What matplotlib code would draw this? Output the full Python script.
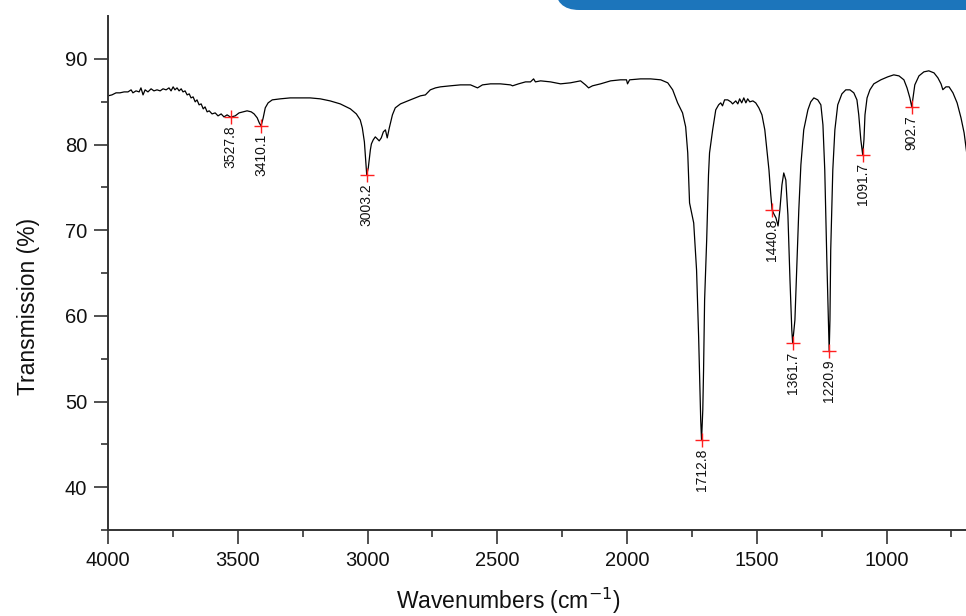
import matplotlib
matplotlib.use("Agg")
import matplotlib.pyplot as plt
from matplotlib.patches import FancyBboxPatch

plt.rcParams['font.family'] = ['Liberation Sans', 'DejaVu Sans']

# FTIR spectrum (wavenumber in cm-1, transmission in %)
wavenumber = [
    4000, 3985, 3969, 3954, 3938, 3923, 3911, 3904, 3892, 3880, 3873, 3865, 3857, 3846,
    3834, 3823, 3811, 3799, 3788, 3776, 3765, 3757, 3749, 3742, 3734, 3726, 3718, 3711,
    3703, 3695, 3687, 3680, 3672, 3664, 3657, 3649, 3641, 3633, 3626, 3618, 3610, 3599,
    3587, 3576, 3564, 3553, 3541, 3528, 3510, 3495, 3479, 3464, 3448, 3437, 3425, 3417,
    3410, 3402, 3394, 3383, 3367, 3336, 3298, 3259, 3221, 3182, 3144, 3105, 3066, 3043,
    3028, 3020, 3012, 3006, 3003, 2997, 2989, 2985, 2978, 2970, 2962, 2955, 2947, 2939,
    2931, 2924, 2916, 2904, 2893, 2873, 2854, 2835, 2816, 2796, 2777, 2758, 2738, 2719,
    2681, 2642, 2603, 2576, 2557, 2526, 2488, 2449, 2441, 2418, 2391, 2372, 2360, 2353,
    2333, 2295, 2256, 2218, 2179, 2160, 2148, 2133, 2102, 2063, 2025, 2002, 1998, 1990,
    1948, 1909, 1870, 1843, 1824, 1805, 1786, 1774, 1766, 1759, 1751, 1743, 1732, 1724,
    1716, 1712.8, 1708, 1705, 1701, 1693, 1689, 1686, 1682, 1670, 1658, 1647, 1639, 1632,
    1624, 1612, 1600, 1593, 1581, 1573, 1566, 1558, 1550, 1542, 1535, 1527, 1515, 1504,
    1492, 1480, 1469, 1461, 1453, 1446, 1440.8, 1434, 1426, 1418, 1411, 1403, 1396, 1388,
    1380, 1372, 1365, 1361.7, 1353, 1346, 1338, 1330, 1319, 1303, 1292, 1280, 1265, 1253,
    1245, 1238, 1230, 1220.9, 1218, 1215, 1207, 1199, 1188, 1172, 1157, 1141, 1126, 1114,
    1107, 1099, 1091.7, 1087, 1083, 1075, 1064, 1049, 1022, 995, 972, 952, 933, 921,
    910, 902.7, 898, 891, 875, 856, 837, 817, 802, 790, 783, 771, 759, 744,
    728, 713, 701, 690,
]
transmission = [
    85.68, 85.79, 86.03, 86.03, 86.14, 86.14, 86.38, 86.03, 86.26, 86.14, 86.61, 85.79, 86.38, 86.14,
    86.50, 86.26, 86.38, 86.26, 86.50, 86.38, 86.61, 86.26, 86.73, 86.38, 86.61, 86.26, 86.50, 86.14,
    86.26, 85.79, 85.91, 85.44, 85.56, 84.98, 85.21, 84.63, 84.74, 84.16, 84.39, 83.81, 83.93, 83.57,
    83.69, 83.34, 83.57, 83.22, 83.46, 83.20, 83.34, 83.69, 83.81, 83.93, 83.81, 83.57, 83.11, 82.52,
    82.17, 83.11, 84.28, 84.86, 85.21, 85.33, 85.44, 85.44, 85.44, 85.33, 85.09, 84.74, 84.16, 83.57,
    82.87, 81.94, 80.30, 77.62, 76.45, 77.27, 79.37, 80.07, 80.54, 80.89, 80.65, 80.42, 80.77, 81.47,
    81.71, 80.77, 81.94, 83.46, 84.28, 84.74, 84.98, 85.21, 85.44, 85.68, 85.79, 86.38, 86.61, 86.73,
    86.85, 86.96, 86.96, 86.61, 86.96, 87.08, 87.08, 86.96, 86.85, 87.08, 87.31, 87.31, 87.66, 87.31,
    87.43, 87.31, 87.08, 87.20, 87.43, 86.96, 86.61, 86.85, 87.08, 87.43, 87.55, 87.55, 87.08, 87.55,
    87.66, 87.66, 87.55, 87.20, 86.38, 84.86, 83.69, 82.06, 79.02, 73.18, 72.01, 70.84, 65.35, 57.52,
    47.83, 45.49, 49.00, 53.67, 61.85, 68.85, 73.18, 76.45, 79.02, 81.71, 84.04, 84.63, 84.86, 84.51,
    85.21, 85.21, 84.98, 84.74, 85.09, 84.74, 85.33, 84.86, 85.44, 84.86, 85.33, 84.98, 85.09, 84.86,
    84.28, 83.46, 81.71, 79.37, 77.03, 74.11, 72.36, 71.89, 71.43, 70.49, 72.36, 75.28, 76.68, 75.86,
    71.78, 64.18, 58.34, 56.82, 59.51, 65.35, 72.36, 77.62, 81.71, 84.04, 84.98, 85.44, 85.21, 84.63,
    82.29, 77.03, 66.52, 55.89, 59.51, 67.69, 77.03, 81.71, 84.63, 85.91, 86.38, 86.38, 86.03, 85.21,
    83.46, 80.54, 78.79, 80.54, 83.46, 85.44, 86.38, 87.08, 87.55, 87.90, 88.13, 88.01, 87.55, 86.61,
    85.44, 84.39, 85.44, 86.96, 88.01, 88.48, 88.60, 88.36, 87.78, 87.08, 86.40, 86.73, 86.73, 86.03,
    84.86, 83.11, 81.36, 78.79,
]

# Picked peaks
peak_wavenumber = [3527.8, 3410.1, 3003.2, 1712.8, 1440.8, 1361.7, 1220.9, 1091.7, 902.7]
peak_transmission = [83.20, 82.17, 76.45, 45.49, 72.36, 56.82, 55.89, 78.79, 84.39]
peak_labels = ["3527.8", "3410.1", "3003.2", "1712.8", "1440.8", "1361.7", "1220.9", "1091.7", "902.7"]

x_ticks = [4000, 3500, 3000, 2500, 2000, 1500, 1000]
y_ticks = [40, 50, 60, 70, 80, 90]

fig = plt.figure(figsize=(9.66, 6.16), dpi=100)
ax = fig.add_axes([108 / 966, 1 - 530 / 616, 1 - 108 / 966 + 0.001, (530 - 16) / 616])

ax.plot(wavenumber, transmission, color='black', lw=0.9)
ax.plot(peak_wavenumber, peak_transmission, linestyle='none', marker='+',
        color='#ff2020', markersize=10, markeredgewidth=1.0)
for wn, t, lab in zip(peak_wavenumber, peak_transmission, peak_labels):
    ax.annotate(lab, (wn, t), xytext=(0, -6), textcoords='offset points',
                rotation=90, ha='center', va='top', fontsize=10, color='#111111')

ax.set_xlim(4000, 690)
ax.set_ylim(35, 95)
ax.set_xticks(x_ticks)
ax.set_xticks([3750, 3250, 2750, 2250, 1750, 1250, 750], minor=True)
ax.set_yticks(y_ticks)
ax.set_yticks([35, 45, 55, 65, 75, 85], minor=True)
ax.tick_params(which='major', direction='out', length=10, width=1.2, labelsize=14.5,
               colors='#333333', labelcolor='#111111', pad=5)
ax.tick_params(which='minor', direction='out', length=5, width=1.2, colors='#333333')

for side in ('top', 'right'):
    ax.spines[side].set_visible(False)
for side in ('left', 'bottom'):
    ax.spines[side].set_linewidth(1.4)
    ax.spines[side].set_color('#333333')

ax.set_xlabel('Wavenumbers (cm$^{\\mathsf{-1}}$)', fontsize=16.5, color='#111111')
ax.set_ylabel('Transmission (%)', fontsize=16.5, color='#111111')
ax.xaxis.set_label_coords((508 - 108) / (966 - 108), -0.109)
ax.yaxis.set_label_coords(-0.079, 0.434)

# Header banner along the top edge
banner = FancyBboxPatch((555 / 966, 1 - 10 / 616), 1.0, 0.1,
                        boxstyle='round,pad=0,rounding_size=0.025',
                        transform=fig.transFigure, facecolor='#1c75bb',
                        edgecolor='none', mutation_aspect=966 / 616, clip_on=False)
fig.patches.append(banner)

fig.savefig('out.png', dpi=100)
